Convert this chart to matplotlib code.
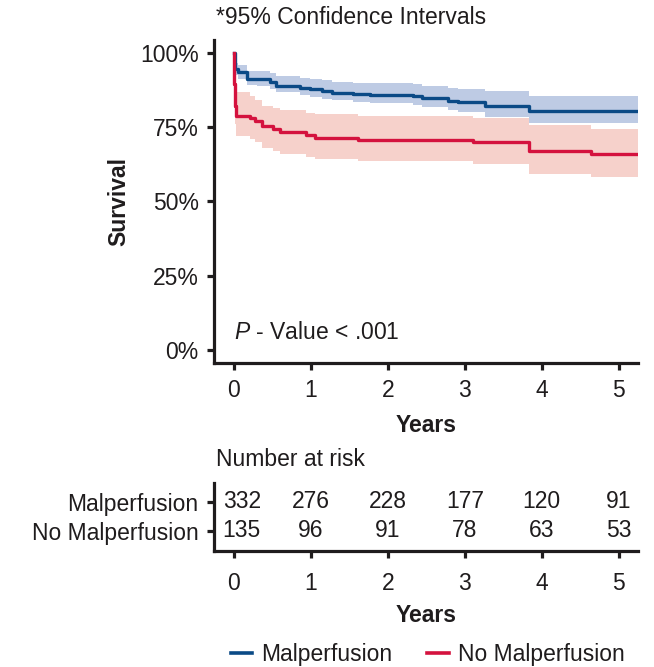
import matplotlib
matplotlib.use("Agg")
import matplotlib.pyplot as plt
import numpy as np
from matplotlib.lines import Line2D

plt.rcParams['font.family'] = ['Liberation Sans', 'DejaVu Sans']
plt.rcParams['mathtext.fontset'] = 'custom'
plt.rcParams['mathtext.it'] = 'Liberation Sans:italic'
plt.rcParams['mathtext.rm'] = 'Liberation Sans'

# ---- data ----
groups = ["Malperfusion", "No Malperfusion"]
colors = ["#0b4a86", "#d4123e"]
band_colors = ["#b7c6e2", "#f5ccc6"]

t_mal = [0, 0.01, 0.05, 0.17, 0.30, 0.47, 0.55, 0.86, 0.99, 1.14, 1.27, 1.55, 1.77,
         2.33, 2.44, 2.78, 2.91, 3.26, 3.83, 5.25]
s_mal = [100, 94.6, 93.5, 91.2, 91.0, 90.0, 88.9, 88.1, 87.7, 86.9, 86.4, 86.0, 85.7,
         85.3, 84.7, 83.8, 83.2, 81.9, 80.4, 80.4]
hi_mal = [100, 96.6, 95.8, 93.9, 93.7, 93.0, 92.2, 91.5, 91.2, 90.6, 90.2, 89.8, 89.6,
          89.3, 88.8, 88.0, 87.6, 87.2, 85.4, 85.4]
lo_mal = [100, 92.4, 91.0, 89.1, 88.8, 87.6, 86.6, 85.6, 85.1, 84.4, 84.0, 83.3, 82.9,
          82.4, 81.8, 80.7, 80.0, 78.3, 76.3, 76.3]

t_nomal = [0, 0.005, 0.01, 0.03, 0.21, 0.27, 0.36, 0.51, 0.60, 0.94, 1.05, 1.61, 3.10,
           3.83, 4.64, 5.25]
s_nomal = [100, 89.4, 82.0, 78.7, 78.0, 77.0, 75.3, 74.2, 73.3, 72.2, 71.4, 70.6, 69.9,
           66.9, 65.8, 65.8]
hi_nomal = [100, 94.0, 87.0, 86.6, 85.5, 84.0, 82.1, 81.5, 80.8, 79.8, 79.2, 78.7, 78.1,
            75.5, 74.2, 74.2]
lo_nomal = [100, 84.0, 76.0, 72.0, 71.0, 70.0, 68.0, 67.0, 66.0, 64.9, 64.2, 63.5, 62.6,
            59.2, 58.1, 58.1]

risk_years = [0, 1, 2, 3, 4, 5]
risk_mal = [332, 276, 228, 177, 120, 91]
risk_nomal = [135, 96, 91, 78, 63, 53]

y_ticks = [0, 25, 50, 75, 100]
y_ticklabels = ["0%", "25%", "50%", "75%", "100%"]

FS = 16.5
SPW = 2.3
TXT = '#1f1c1d'
fig = plt.figure(figsize=(6.54, 6.67), dpi=100)

ax = fig.add_axes([0.3272, 0.4553, 0.6483, 0.4847])
series = [(t_mal, s_mal, hi_mal, lo_mal), (t_nomal, s_nomal, hi_nomal, lo_nomal)]
for (t, s, hi, lo), c, bc in zip(series, colors, band_colors):
    ax.fill_between(t, lo, hi, step='post', color=bc, lw=0, alpha=0.9)
for (t, s, hi, lo), c in zip(series, colors):
    ax.step(t, s, where='post', color=c, lw=2.4)

ax.set_xlim(-0.26, 5.25)
ax.set_ylim(-4.5, 104.2)
ax.set_xticks(risk_years)
ax.set_yticks(y_ticks)
ax.set_yticklabels(y_ticklabels)
for sp in ['top', 'right']:
    ax.spines[sp].set_visible(False)
for sp in ['left', 'bottom']:
    ax.spines[sp].set_linewidth(SPW)
    ax.spines[sp].set_color(TXT)
ax.tick_params(axis='both', labelsize=FS, width=SPW, length=5, color=TXT,
               labelcolor=TXT, pad=6)
ax.set_ylabel("Survival", fontsize=FS, fontweight='bold', labelpad=7, color=TXT)
ax.set_xlabel("Years", fontsize=FS, fontweight='bold', labelpad=9, color=TXT)
ax.text(0.0, 5.8, r"$\mathit{P}$ - Value < .001", fontsize=FS, color=TXT, va='center')
fig.text(216/654, 1 - 18/667, "*95% Confidence Intervals", fontsize=FS, va='center',
         ha='left', color=TXT)

# risk table
ax2 = fig.add_axes([0.3272, 0.1744, 0.6483, 0.1015])
ax2.set_xlim(-0.26, 5.25)
ax2.set_ylim(0.31, 2.645)
for i, (x, a, b) in enumerate(zip(risk_years, risk_mal, risk_nomal)):
    xx = x + (0.1 if i == 0 else 0)
    ax2.text(xx, 2, str(a), ha='center', va='center', fontsize=FS, color=TXT)
    ax2.text(xx, 1, str(b), ha='center', va='center', fontsize=FS, color=TXT)
ax2.set_yticks([2, 1])
ax2.set_yticklabels(groups)
ax2.set_xticks(risk_years)
for sp in ['top', 'right']:
    ax2.spines[sp].set_visible(False)
for sp in ['left', 'bottom']:
    ax2.spines[sp].set_linewidth(SPW)
    ax2.spines[sp].set_color(TXT)
ax2.tick_params(axis='both', labelsize=FS, width=SPW, length=5, color=TXT,
                labelcolor=TXT, pad=6)
ax2.tick_params(axis='x', pad=10)
ax2.set_xlabel("Years", fontsize=FS, fontweight='bold', labelpad=7, color=TXT)
fig.text(216/654, 1 - 460/667, "Number at risk", fontsize=FS, va='center', ha='left',
         color=TXT)

handles = [Line2D([], [], color=c, lw=2.6) for c in colors]
fig.legend(handles, groups, loc='center', bbox_to_anchor=(0.654, 1 - 655/667), ncol=2,
           frameon=False, fontsize=FS, handlelength=0.95, handletextpad=0.4,
           columnspacing=1.5, labelcolor=TXT)

fig.savefig("out.png", dpi=100)
